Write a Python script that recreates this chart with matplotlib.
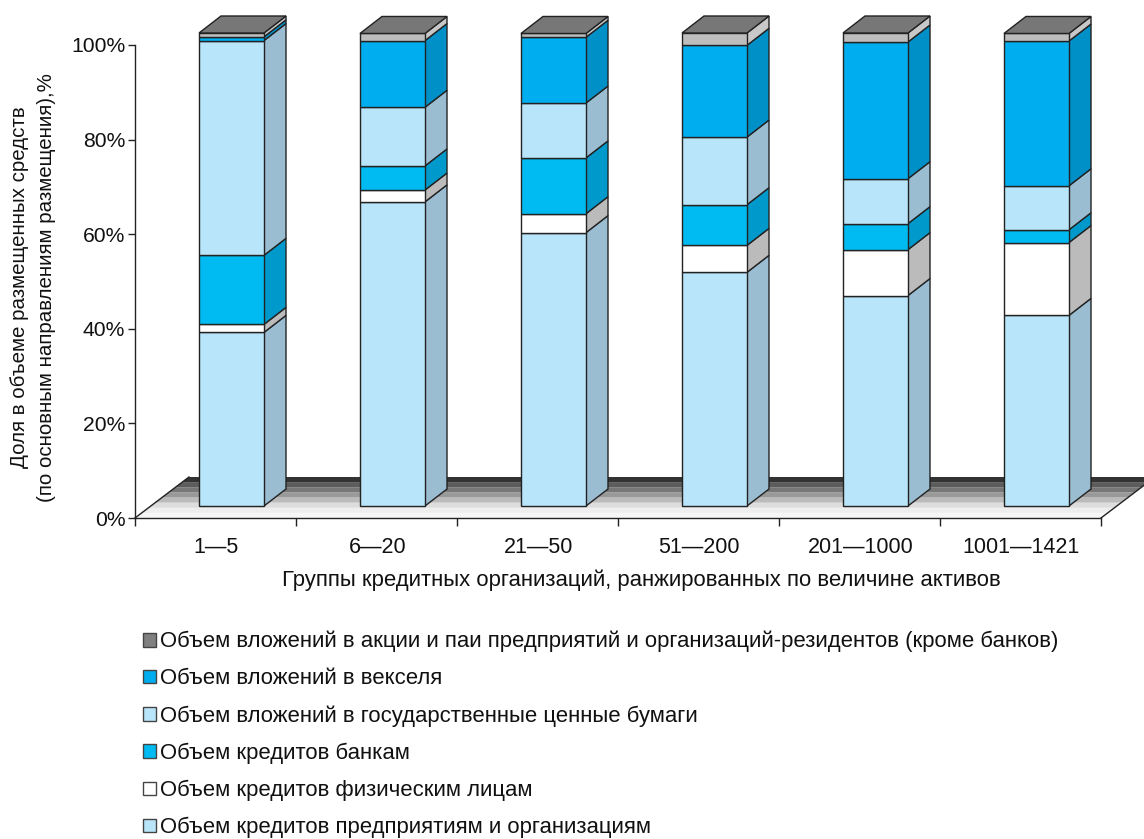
import matplotlib
matplotlib.use("Agg")
import matplotlib.pyplot as plt
from matplotlib.patches import Polygon, Patch

plt.rcParams['font.family'] = ['Liberation Sans', 'DejaVu Sans']

groups = ["1—5", "6—20", "21—50", "51—200", "201—1000", "1001—1421"]
predpr = [36.7, 64.3, 57.8, 49.4, 44.5, 40.3]
fiz = [1.7, 2.5, 4.0, 5.7, 9.7, 15.4]
banks = [14.6, 5.1, 11.8, 8.6, 5.5, 2.7]
gov = [45.4, 12.4, 11.6, 14.3, 9.5, 9.3]
veksel = [0.8, 14.1, 13.9, 19.4, 28.9, 30.6]
akcii = [0.8, 1.5, 0.8, 2.6, 1.9, 1.6]

names = [
    "Объем кредитов предприятиям и организациям",
    "Объем кредитов физическим лицам",
    "Объем кредитов банкам",
    "Объем вложений в государственные ценные бумаги",
    "Объем вложений в векселя",
    "Объем вложений в акции и паи предприятий и организаций-резидентов (кроме банков)",
]
series = [predpr, fiz, banks, gov, veksel, akcii]
front = ["#B9E5FA", "#FFFFFF", "#00BBF2", "#B9E5FA", "#00AEEF", "#BDBDBD"]
side = ["#9ABDD2", "#BBBBBB", "#0099CC", "#9ABDD2", "#0090C8", "#C8C8C8"]
legend_col = ["#B9E5FA", "#FFFFFF", "#00BBF2", "#B9E5FA", "#00AEEF", "#808080"]
top_col = "#777777"
floor_cols = ["#F6F6F6", "#EEEEEE", "#DDDDDD", "#BBBBBB", "#999999", "#777777", "#5C5C5C", "#333333"]

W, H = 1144, 839
fig = plt.figure(figsize=(W/100, H/100), dpi=100)
ax = fig.add_axes([135/W, 1-518/H, 966/W, 473/H])
ax.set_xlim(0, 6)
ax.set_ylim(0, 100)

px = 6/966      # data units of x per pixel
py = 100/473    # data units of y per pixel
ink = "#222222"

# floor (bands from front to back)
fd = 41*py
fx = 54*px
for k, c in enumerate(floor_cols):
    y0 = fd*k/len(floor_cols)
    y1 = fd*(k+1)/len(floor_cols)
    x0 = y0/fd*fx
    x1 = y1/fd*fx
    ax.add_patch(Polygon([(x0, y0), (6+x0, y0), (6+x1, y1), (x1, y1)],
                         closed=True, fc=c, ec='none', clip_on=False, zorder=1))
ax.plot([0, fx], [0, fd], color=ink, lw=1, clip_on=False, zorder=2)
ax.plot([6, 6+fx], [0, fd], color=ink, lw=1, clip_on=False, zorder=2)

# bars
bw = 65*px
off = 64*px
base = 12*py
dx = 22*px
dy = 17*py
for i in range(len(groups)):
    x = i + off
    b = base
    for s, vals in enumerate(series):
        t = b + vals[i]
        ax.add_patch(Polygon([(x+bw, b), (x+bw+dx, b+dy), (x+bw+dx, t+dy), (x+bw, t)],
                             closed=True, fc=side[s], ec=ink, lw=1, clip_on=False, zorder=3+i))
        ax.add_patch(Polygon([(x, b), (x+bw, b), (x+bw, t), (x, t)],
                             closed=True, fc=front[s], ec=ink, lw=1, clip_on=False, zorder=3+i))
        b = t
    ax.add_patch(Polygon([(x, b), (x+bw, b), (x+bw+dx, b+dy), (x+dx, b+dy)],
                         closed=True, fc=top_col, ec=ink, lw=1, clip_on=False, zorder=3+i))

# axes
for sp in ('top', 'right'):
    ax.spines[sp].set_visible(False)
for sp in ('left', 'bottom'):
    ax.spines[sp].set_linewidth(1)
    ax.spines[sp].set_color(ink)
    ax.spines[sp].set_zorder(2)
ax.set_yticks(range(0, 101, 20))
ax.set_yticklabels([f"{v}%" for v in range(0, 101, 20)], fontsize=15.2, color="#111111")
ax.tick_params(axis='y', length=5, width=1, color=ink, pad=2)
ax.set_xticks(range(0, 7))
ax.set_xticklabels([])
ax.tick_params(axis='x', which='major', length=6, width=1, color=ink)
ax.set_xticks([i + 0.505 for i in range(6)], minor=True)
ax.set_xticklabels(groups, minor=True, fontsize=15.5, color="#111111")
ax.tick_params(axis='x', which='minor', length=0, pad=14)

fig.text(641/W, 1-580/H, "Группы кредитных организаций, ранжированных по величине активов",
         ha='center', va='center', fontsize=15.9, color="#111111")
fig.text(33/W, 1-287.5/H, "Доля в объеме размещенных средств\n(по основным направлениям размещения),%",
         ha='center', va='center', rotation=90, fontsize=14.8, color="#111111",
         linespacing=1.55, multialignment='center')

handles = [Patch(fc=c, ec="#444444", lw=1) for c in reversed(legend_col)]
leg = fig.legend(handles, list(reversed(names)), loc='upper left',
                 bbox_to_anchor=(143/W, 1-631/H), bbox_transform=fig.transFigure,
                 frameon=False, fontsize=15.9, borderpad=0, borderaxespad=0,
                 handlelength=0.58, handleheight=0.58, handletextpad=0.2,
                 labelspacing=0.72)
for t in leg.get_texts():
    t.set_color("#111111")

fig.savefig("out.png", dpi=100)
